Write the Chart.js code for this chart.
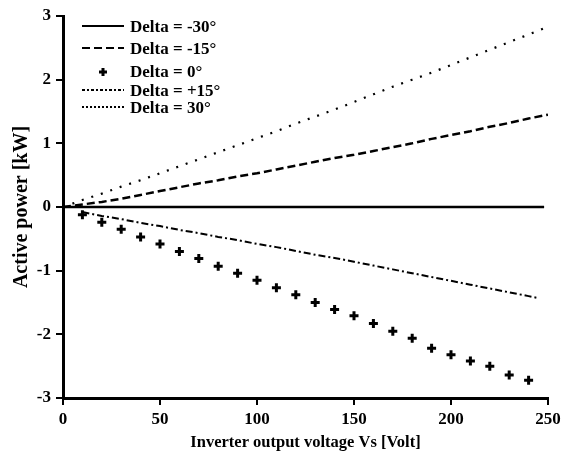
<!DOCTYPE html>
<html>
<head>
<meta charset="utf-8">
<script src="https://cdn.jsdelivr.net/npm/chart.js@4"></script>
<style>
  body { margin: 0; background: #fff; }
</style>
</head>
<body>
<canvas id="myChart" width="565" height="453"></canvas>
<script>
const voltage = [0,10,20,30,40,50,60,70,80,90,100,110,120,130,140,150,160,170,180,190,200,210,220,230,240,250];

// Delta = -30 : flat line at zero
const deltaM30X = [0, 248];
const deltaM30 = [0, 0];

// Delta = -15 (dashed)
const deltaM15 = [0,0.04,0.08,0.13,0.19,0.25,0.31,0.37,0.42,0.48,0.53,0.59,0.65,0.71,0.77,0.82,0.88,0.94,1.00,1.07,1.13,1.19,1.26,1.32,1.39,1.45];

// Delta = 0 (plus markers)
const delta0X = [10,20,30,40,50,60,70,80,90,100,110,120,130,140,150,160,170,180,190,200,210,220,230,240];
const delta0 = [-0.12,-0.24,-0.35,-0.47,-0.58,-0.70,-0.81,-0.93,-1.04,-1.15,-1.27,-1.38,-1.50,-1.61,-1.71,-1.83,-1.95,-2.06,-2.22,-2.32,-2.42,-2.50,-2.64,-2.72];

// Delta = +15 (dash-dot)
const deltaP15X = [10,20,30,40,50,60,70,80,90,100,110,120,130,140,150,160,170,180,190,200,210,220,230,240,245];
const deltaP15 = [-0.08,-0.14,-0.19,-0.25,-0.30,-0.36,-0.41,-0.47,-0.52,-0.58,-0.63,-0.69,-0.75,-0.80,-0.86,-0.92,-0.98,-1.04,-1.10,-1.16,-1.22,-1.28,-1.34,-1.40,-1.43];

// Delta = 30 (dotted)
const deltaP30 = [0,0.11,0.21,0.32,0.42,0.53,0.64,0.75,0.86,0.97,1.08,1.19,1.31,1.42,1.53,1.65,1.77,1.89,2.00,2.11,2.23,2.35,2.47,2.59,2.71,2.83];

const legendLabels = ['Delta = -30°','Delta = -15°','Delta = 0°','Delta = +15°','Delta = 30°'];

const pts = (xs, ys) => xs.map((x, i) => ({x: x, y: ys[i]}));
const serif = 'Liberation Serif';

const lineDs = (label, data, dash, width) => ({
  label, data, showLine: true, fill: false,
  borderColor: '#000', borderWidth: width, borderDash: dash,
  pointRadius: 0, tension: 0
});

const data = {
  datasets: [
    lineDs(legendLabels[0], pts(deltaM30X, deltaM30), [], 2.5),
    lineDs(legendLabels[1], pts(voltage, deltaM15), [8, 4], 2.5),
    {
      label: legendLabels[2], data: pts(delta0X, delta0), showLine: false,
      pointStyle: 'cross', pointRadius: 4.5, borderColor: '#000', borderWidth: 3
    },
    lineDs(legendLabels[3], pts(deltaP15X, deltaP15), [7, 3, 2, 3], 2),
    lineDs(legendLabels[4], pts(voltage, deltaP30), [2, 8], 2.2)
  ]
};

// hand drawn legend, top left inside the plot
const legendPlugin = {
  id: 'customLegend',
  afterDraw(chart) {
    const ctx = chart.ctx;
    const rows = [26, 48, 71, 90, 107];
    const dashes = [[], [8, 4], null, [3, 2, 2, 2], [2, 2]];
    ctx.save();
    ctx.strokeStyle = '#000';
    ctx.fillStyle = '#000';
    rows.forEach((y, i) => {
      if (dashes[i] === null) {
        ctx.setLineDash([]);
        ctx.lineWidth = 3;
        ctx.beginPath();
        ctx.moveTo(99, y + 1); ctx.lineTo(107, y + 1);
        ctx.moveTo(103, y - 3); ctx.lineTo(103, y + 5);
        ctx.stroke();
      } else {
        ctx.setLineDash(dashes[i]);
        ctx.lineWidth = 2;
        ctx.beginPath();
        ctx.moveTo(82, y); ctx.lineTo(124, y);
        ctx.stroke();
      }
      ctx.setLineDash([]);
      ctx.font = 'bold 17px "' + serif + '"';
      ctx.textBaseline = 'middle';
      ctx.textAlign = 'left';
      ctx.fillText(legendLabels[i], 130, y + 2);
    });
    ctx.restore();
  }
};

const tickFont = {family: serif, size: 17, weight: 'bold'};

const config = {
  type: 'scatter',
  data,
  options: {
    responsive: false,
    animation: false,
    layout: { padding: { top: 16, right: 17, left: 0, bottom: 0 } },
    plugins: { legend: { display: false }, tooltip: { enabled: false } },
    scales: {
      x: {
        type: 'linear', min: 0, max: 250,
        ticks: { stepSize: 50, color: '#000', font: tickFont, padding: 4, maxRotation: 0 },
        grid: { drawOnChartArea: false, color: '#000', lineWidth: 2, tickLength: 7 },
        border: { color: '#000', width: 3 },
        title: { display: true, text: 'Inverter output voltage Vs [Volt]', color: '#000', font: {family: serif, size: 16.5, weight: 'bold'}, padding: { top: 0, bottom: 0 } },
        afterFit(scale) { scale.height = 55; }
      },
      y: {
        min: -3, max: 3,
        ticks: { stepSize: 1, color: '#000', font: tickFont, padding: 5 },
        grid: { drawOnChartArea: false, color: '#000', lineWidth: 2, tickLength: 7 },
        border: { color: '#000', width: 3 },
        title: { display: true, text: 'Active power [kW]', color: '#000', font: {family: serif, size: 20, weight: 'bold'}, padding: { top: 10, bottom: 0 } },
        afterFit(scale) { scale.width = 63; }
      }
    }
  },
  plugins: [legendPlugin]
};

const myChart = new Chart(document.getElementById('myChart'), config);
</script>
</body>
</html>
